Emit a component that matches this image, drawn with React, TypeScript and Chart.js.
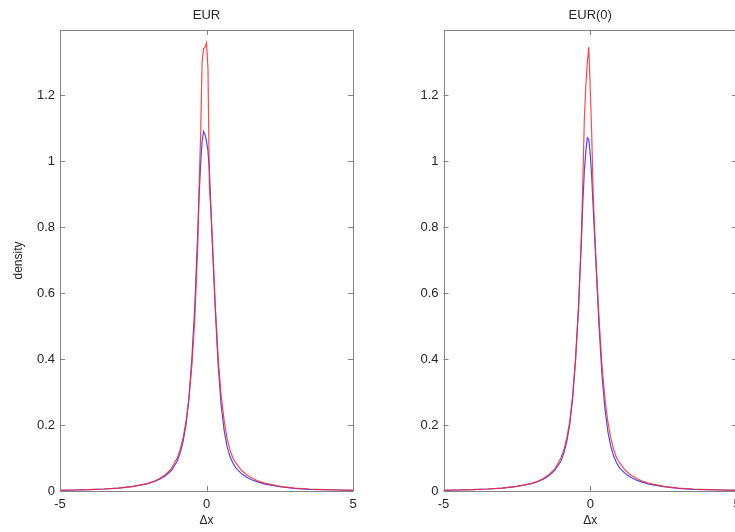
import React, { useEffect, useRef } from "react";
import { Chart, registerables } from "chart.js";

Chart.register(...registerables);

const xs = [-5, -4.5, -4, -3.5, -3, -2.5, -2, -1.8, -1.6, -1.4, -1.2, -1.0, -0.9, -0.8, -0.7, -0.6, -0.5, -0.4, -0.3, -0.25, -0.2, -0.15, -0.1, -0.05, 0, 0.05, 0.1, 0.15, 0.2, 0.3, 0.4, 0.5, 0.6, 0.7, 0.8, 0.9, 1.0, 1.2, 1.4, 1.6, 1.8, 2.0, 2.5, 3, 3.5, 4, 4.5, 5];

const eurBlue = [0.002, 0.003, 0.004, 0.006, 0.009, 0.014, 0.022, 0.028, 0.036, 0.046, 0.062, 0.09, 0.115, 0.15, 0.2, 0.28, 0.4, 0.56, 0.78, 0.9, 0.99, 1.06, 1.09, 1.08, 1.06, 1.03, 0.97, 0.86, 0.75, 0.55, 0.38, 0.26, 0.185, 0.135, 0.105, 0.085, 0.07, 0.052, 0.04, 0.032, 0.026, 0.021, 0.013, 0.008, 0.005, 0.004, 0.003, 0.002];
const eurRed = [0.002, 0.003, 0.004, 0.006, 0.009, 0.014, 0.023, 0.029, 0.038, 0.05, 0.068, 0.1, 0.125, 0.16, 0.21, 0.28, 0.38, 0.52, 0.74, 0.93, 1.08, 1.3, 1.34, 1.345, 1.358, 1.28, 0.92, 0.85, 0.76, 0.56, 0.4, 0.29, 0.215, 0.16, 0.125, 0.1, 0.085, 0.062, 0.047, 0.037, 0.029, 0.023, 0.014, 0.009, 0.006, 0.004, 0.003, 0.002];

const eur0Blue = [0.002, 0.003, 0.004, 0.006, 0.009, 0.014, 0.022, 0.028, 0.036, 0.047, 0.063, 0.09, 0.115, 0.15, 0.2, 0.28, 0.4, 0.56, 0.76, 0.88, 0.97, 1.03, 1.07, 1.065, 1.02, 0.95, 0.86, 0.77, 0.68, 0.5, 0.35, 0.25, 0.18, 0.135, 0.105, 0.085, 0.07, 0.052, 0.04, 0.032, 0.026, 0.021, 0.013, 0.008, 0.005, 0.004, 0.003, 0.002];
const eur0Red = [0.002, 0.003, 0.004, 0.006, 0.009, 0.014, 0.023, 0.029, 0.038, 0.05, 0.068, 0.1, 0.125, 0.16, 0.21, 0.29, 0.4, 0.55, 0.78, 0.95, 1.13, 1.23, 1.3, 1.345, 1.22, 1.08, 0.9, 0.79, 0.69, 0.52, 0.38, 0.28, 0.21, 0.16, 0.125, 0.1, 0.085, 0.062, 0.047, 0.037, 0.029, 0.023, 0.014, 0.009, 0.006, 0.004, 0.003, 0.002];

const xTicks = [-5, 0, 5];
const yTicks = [0, 0.2, 0.4, 0.6, 0.8, 1, 1.2];
const yMax = 1.397;

const FONT = "'Liberation Sans', Arial, sans-serif";
const AXIS_COLOR = "#858585";
const TEXT_COLOR = "#262626";

const boxPlugin = {
  id: "matlabBox",
  afterDatasetsDraw(chart: any, _args: any, opts: any) {
    const { ctx, chartArea } = chart;
    const { left, right, top, bottom } = chartArea;
    const xs = chart.scales.x;
    const ys = chart.scales.y;
    ctx.save();
    ctx.strokeStyle = AXIS_COLOR;
    ctx.lineWidth = 1;
    ctx.beginPath();
    ctx.rect(Math.round(left) + 0.5, Math.round(top) + 0.5, Math.round(right - left), Math.round(bottom - top));
    ctx.stroke();
    const tl = 5;
    ctx.beginPath();
    for (const v of xTicks) {
      const px = Math.round(xs.getPixelForValue(v)) + 0.5;
      ctx.moveTo(px, bottom);
      ctx.lineTo(px, bottom - tl);
      ctx.moveTo(px, top);
      ctx.lineTo(px, top + tl);
    }
    for (const v of yTicks) {
      const py = Math.round(ys.getPixelForValue(v)) + 0.5;
      ctx.moveTo(left, py);
      ctx.lineTo(left + tl, py);
      ctx.moveTo(right, py);
      ctx.lineTo(right - tl, py);
    }
    ctx.stroke();
    if (opts && opts.text) {
      ctx.fillStyle = TEXT_COLOR;
      ctx.font = `13px ${FONT}`;
      ctx.textAlign = "center";
      ctx.textBaseline = "middle";
      ctx.fillText(opts.text, (left + right) / 2, 15);
    }
    ctx.restore();
  },
};

function makeConfig(title: string, red: number[], blue: number[], showYTitle: boolean, padLeft: number, padRight: number) {
  return {
    type: "line" as const,
    data: {
      datasets: [
        {
          label: "red",
          data: xs.map((x, i) => ({ x, y: red[i] })),
          borderColor: "rgba(255,40,40,0.85)",
          borderWidth: 1.2,
          pointRadius: 0,
          tension: 0,
        },
        {
          label: "blue",
          data: xs.map((x, i) => ({ x, y: blue[i] })),
          borderColor: "rgba(40,40,255,0.85)",
          borderWidth: 1.2,
          pointRadius: 0,
          tension: 0,
        },
      ],
    },
    options: {
      animation: false,
      responsive: false,
      maintainAspectRatio: false,
      layout: { padding: { top: 30, left: padLeft, right: padRight, bottom: 0 } },
      plugins: {
        legend: { display: false },
        tooltip: { enabled: false },
        title: { display: false },
        matlabBox: { text: title },
      },
      scales: {
        x: {
          type: "linear",
          min: -5,
          max: 5,
          grid: { display: false, drawTicks: false },
          border: { display: false },
          afterBuildTicks: (s: any) => {
            s.ticks = xTicks.map((v) => ({ value: v }));
          },
          afterFit: (s: any) => {
            s.height = 41;
          },
          ticks: {
            padding: 6,
            maxRotation: 0,
            color: TEXT_COLOR,
            font: { family: FONT, size: 13 },
            callback: (v: any) => String(v),
          },
          title: {
            display: true,
            text: "Δx",
            color: TEXT_COLOR,
            font: { family: FONT, size: 12 },
            padding: { top: 0, bottom: 4 },
          },
        },
        y: {
          type: "linear",
          min: 0,
          max: yMax,
          grid: { display: false, drawTicks: false },
          border: { display: false },
          afterBuildTicks: (s: any) => {
            s.ticks = yTicks.map((v) => ({ value: v }));
          },
          afterFit: (s: any) => {
            s.width = 60;
          },
          ticks: {
            padding: 5,
            color: TEXT_COLOR,
            font: { family: FONT, size: 13 },
            callback: (v: any) => String(Math.round(v * 10) / 10),
          },
          title: {
            display: showYTitle,
            text: "density",
            color: TEXT_COLOR,
            font: { family: FONT, size: 12 },
            padding: { top: 11, bottom: 0 },
          },
        },
      },
    },
    plugins: [boxPlugin],
  };
}

function Panel(props: { left: number; width: number; title: string; red: number[]; blue: number[]; yTitle: boolean; padLeft: number; padRight: number }) {
  const ref = useRef<HTMLCanvasElement | null>(null);
  useEffect(() => {
    if (!ref.current) return;
    const chart = new Chart(ref.current, makeConfig(props.title, props.red, props.blue, props.yTitle, props.padLeft, props.padRight) as any);
    return () => chart.destroy();
  }, []);
  return (
    <canvas
      ref={ref}
      width={props.width}
      height={532}
      style={{ position: "fixed", left: props.left, top: 0, width: props.width, height: 532 }}
    />
  );
}

export default function App() {
  useEffect(() => {
    document.body.style.overflow = "hidden";
    document.body.style.background = "#ffffff";
  }, []);
  return (
    <div style={{ width: 735, height: 532 }}>
      <Panel left={0} width={370} title="EUR" red={eurRed} blue={eurBlue} yTitle={true} padLeft={0} padRight={17} />
      <Panel left={370} width={385} title="EUR(0)" red={eur0Red} blue={eur0Blue} yTitle={false} padLeft={13.5} padRight={18} />
    </div>
  );
}
